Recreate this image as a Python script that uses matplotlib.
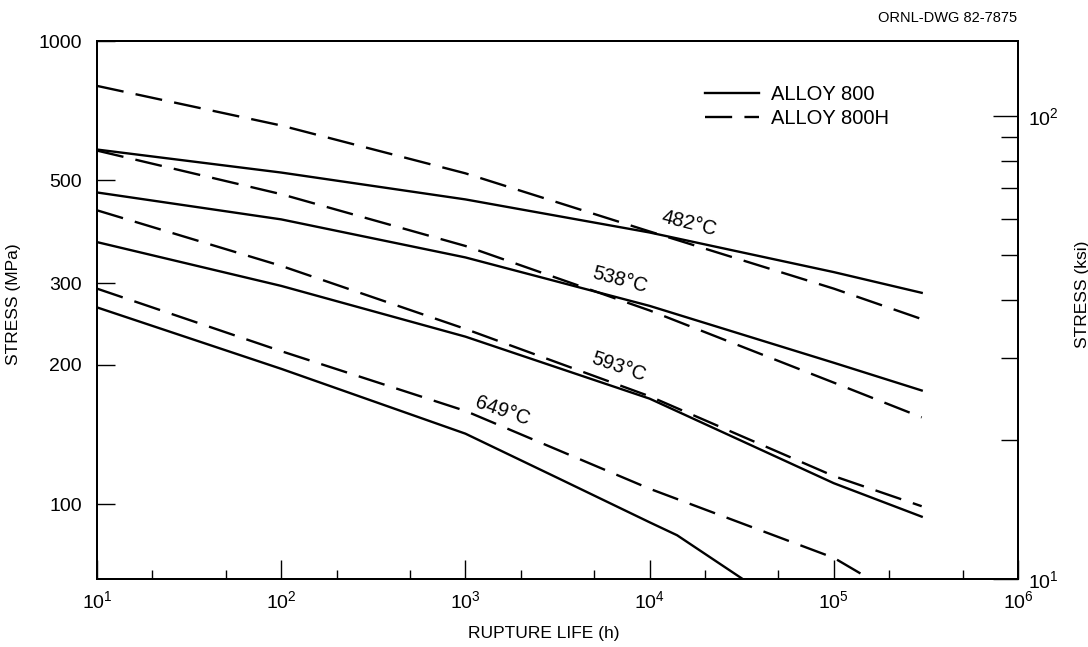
import matplotlib
matplotlib.use("Agg")
import matplotlib.pyplot as plt
from matplotlib.ticker import FixedLocator, NullFormatter, FixedFormatter

plt.rcParams['font.family'] = ['Liberation Sans', 'DejaVu Sans']
plt.rcParams['mathtext.fontset'] = 'custom'
plt.rcParams['mathtext.rm'] = 'Liberation Sans'
plt.rcParams['mathtext.it'] = 'Liberation Sans'

# ---- data (rupture life in h, stress in MPa) ----
hours = [10, 100, 1000, 1e4, 1e5, 3e5]
alloy800_482 = [583, 520, 455, 386, 317, 286]
alloy800h_482 = [800, 657, 518, 388, 292, 251]
alloy800_538 = [471, 412, 341, 268, 202, 176]
alloy800h_538 = [580, 467, 361, 262, 183, 154]
alloy800_593 = [368, 296, 230, 169, 111, 94]
alloy800h_593 = [431, 327, 239, 171, 115, 99]
hours_800_649 = [10, 100, 1000, 3160, 1e4, 1.41e4, 3.2e4]
alloy800_649 = [266, 196, 142, 114, 91.4, 85.7, 68.95]
hours_800h_649 = [10, 100, 1000, 1e4, 1e5, 1.57e5]
alloy800h_649 = [292, 214, 159, 108, 76.6, 68.95]

temp_labels = ["482°C", "538°C", "593°C", "649°C"]
label_hours = [16400, 6900, 6820, 1580]
label_stress = [404, 305, 198, 159]
label_rot = [-14, -15, -19, -19]

mpa_ticks = [100, 200, 300, 500, 1000]
ksi_major = [10, 100]
ksi_minor = [20, 30, 40, 50, 60, 70, 80, 90]
MPA_PER_KSI = 6.89476

fig = plt.figure(figsize=(10.88, 6.47), dpi=100)
ax = fig.add_axes([97/1088, 1-579/647, (1018-97)/1088, (579-41)/647])

lw = 1.7
dash = (11.5, 5.2)
ax.plot(hours, alloy800_482, color='black', lw=lw, label='ALLOY 800')
ax.plot(hours, alloy800h_482, color='black', lw=lw, dashes=dash, label='ALLOY 800H')
ax.plot(hours, alloy800_538, color='black', lw=lw)
ax.plot(hours, alloy800h_538, color='black', lw=lw, dashes=dash)
ax.plot(hours, alloy800_593, color='black', lw=lw)
ax.plot(hours, alloy800h_593, color='black', lw=lw, dashes=dash)
ax.plot(hours_800_649, alloy800_649, color='black', lw=lw)
ax.plot(hours_800h_649, alloy800h_649, color='black', lw=lw, dashes=dash)

for t, hx, sy, r in zip(temp_labels, label_hours, label_stress, label_rot):
    ax.text(hx, sy, t, rotation=r, ha='center', va='center', fontsize=14.5,
            rotation_mode='anchor')

ax.set_xscale('log')
ax.set_yscale('log')
ymin = 10 * MPA_PER_KSI
ax.set_xlim(10, 1e6)
ax.set_ylim(ymin, 1000)

ax.xaxis.set_major_locator(FixedLocator([1e1, 1e2, 1e3, 1e4, 1e5, 1e6]))
ax.xaxis.set_major_formatter(FixedFormatter([r'10$^{1}$', r'10$^{2}$', r'10$^{3}$',
                                             r'10$^{4}$', r'10$^{5}$', r'10$^{6}$']))
minor_x = []
for d in [1e1, 1e2, 1e3, 1e4, 1e5]:
    minor_x += [2 * d, 5 * d]
ax.xaxis.set_minor_locator(FixedLocator(minor_x))
ax.xaxis.set_minor_formatter(NullFormatter())

ax.yaxis.set_major_locator(FixedLocator(mpa_ticks))
ax.yaxis.set_major_formatter(FixedFormatter([str(v) for v in mpa_ticks]))
ax.yaxis.set_minor_locator(FixedLocator([]))

ax.tick_params(axis='x', which='major', direction='in', length=14, width=1.0,
               labelsize=14, pad=8, top=False)
ax.tick_params(axis='x', which='minor', direction='in', length=6.5, width=1.0, top=False)
ax.tick_params(axis='y', which='major', direction='in', length=13, width=1.0,
               labelsize=14, pad=11, right=False)

ax2 = ax.twinx()
ax2.set_yscale('log')
ax2.set_ylim(ymin / MPA_PER_KSI, 1000 / MPA_PER_KSI)
ax2.yaxis.set_major_locator(FixedLocator(ksi_major))
ax2.yaxis.set_major_formatter(FixedFormatter([r'10$^{1}$', r'10$^{2}$']))
ax2.yaxis.set_minor_locator(FixedLocator(ksi_minor))
ax2.yaxis.set_minor_formatter(NullFormatter())
ax2.tick_params(axis='y', which='major', direction='in', length=18, width=1.0,
                labelsize=14, pad=7)
ax2.tick_params(axis='y', which='minor', direction='in', length=12, width=1.0)

for a in (ax, ax2):
    for s in a.spines.values():
        s.set_linewidth(1.4)

ax.set_xlabel('RUPTURE LIFE (h)', fontsize=12.5)
ax.xaxis.set_label_coords(0.485, -0.088)
ax.set_ylabel('STRESS (MPa)', fontsize=12.5)
ax.yaxis.set_label_coords(-0.082, 0.51)
ax2.set_ylabel('STRESS (ksi)', fontsize=12.5)
ax2.yaxis.set_label_coords(1.062, 0.53)

ax.legend(loc='upper left', bbox_to_anchor=(0.66, 0.918), frameon=False,
          fontsize=14.5, handlelength=2.7, handletextpad=0.6, labelspacing=0.25,
          borderpad=0, borderaxespad=0)

fig.text(1017/1088, 1 - 18/647, 'ORNL-DWG 82-7875', ha='right', va='center', fontsize=10.5)

fig.savefig('out.png', dpi=100)
